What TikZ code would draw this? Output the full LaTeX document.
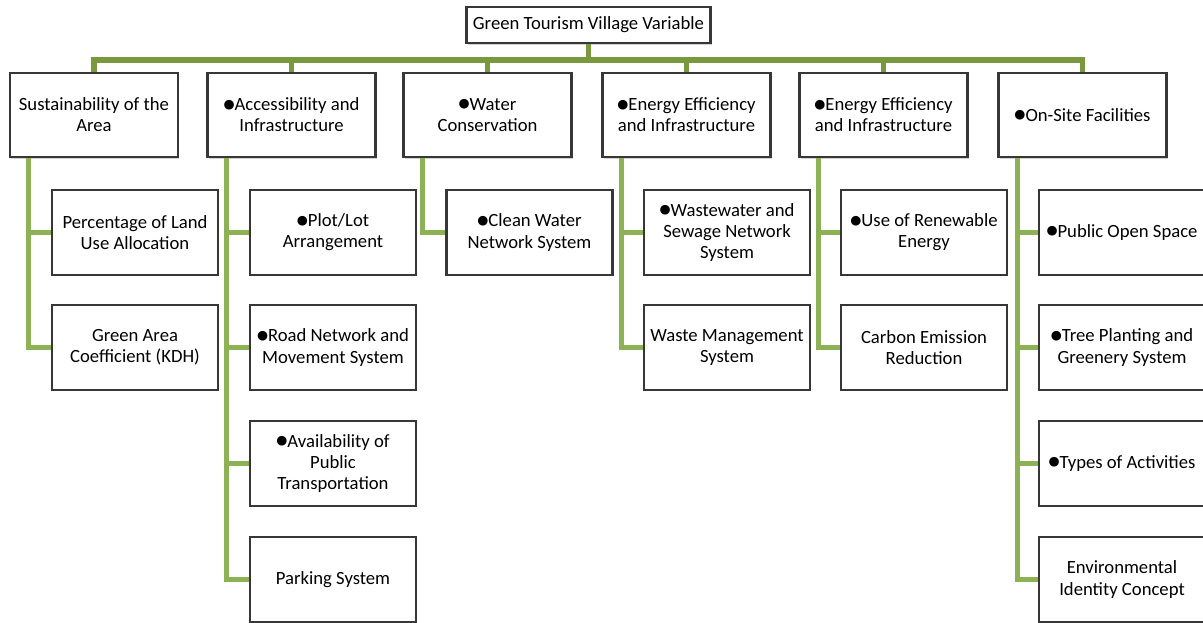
\documentclass[tikz,border=0pt]{standalone}
\usepackage{fontspec}
\setmainfont{Carlito}
\newfontfamily\symfont{DejaVu Sans}
\usetikzlibrary{positioning, shadows}

\definecolor{busgreen}{RGB}{122,152,62}
\definecolor{linkgreen}{RGB}{141,178,85}
\definecolor{boxedge}{RGB}{55,55,55}

\newcommand{\bul}{\raisebox{0.3ex}{\symfont\fontsize{9.5}{9.5}\selectfont ●}}

\tikzset{
    box/.style={draw=boxedge, line width=1.6pt, fill=white, align=center,
        minimum width=124.5pt, minimum height=63.5pt, inner sep=2pt,
        font=\fontsize{14}{15.8}\selectfont,
        drop shadow={shadow xshift=1pt, shadow yshift=-1.2pt, opacity=0.35}},
    topbox/.style={box, minimum width=126pt, minimum height=63pt},
    rootbox/.style={box, minimum width=183pt, minimum height=27pt},
    bus/.style={draw=busgreen, line width=3.8pt},
    link/.style={draw=linkgreen, line width=3.8pt}
}

\begin{document}
\begin{tikzpicture}[x=0.75pt, y=-0.75pt]
    \useasboundingbox (0,0) rectangle (1203,623);

    % Root
    \node[rootbox] (root) at (588.5,25) {Green Tourism Village Variable};

    % Main variables
    \node[topbox] (sust) at (94,115) {Sustainability of the\\Area};
    \node[topbox] (access) at (291.5,115) {\bul Accessibility and\\Infrastructure};
    \node[topbox] (water) at (487.5,115) {\bul Water\\Conservation};
    \node[topbox] (energyA) at (686.5,115) {\bul Energy Efficiency\\and Infrastructure};
    \node[topbox] (energyB) at (883.5,115) {\bul Energy Efficiency\\and Infrastructure};
    \node[topbox] (onsite) at (1082.5,115) {\bul On-Site Facilities};

    % Sustainability of the area
    \node[box] (landuse) at (135,232.5) {Percentage of Land\\Use Allocation};
    \node[box] (kdh) at (135,347.5) {Green Area\\Coefficient (KDH)};

    % Accessibility
    \node[box] (plot) at (333,232.5) {\bul Plot/Lot\\Arrangement};
    \node[box] (road) at (333,347.5) {\bul Road Network and\\Movement System};
    \node[box] (transport) at (333,463.5) {\bul Availability of\\Public\\Transportation};
    \node[box] (parking) at (333,579.5) {Parking System};

    % Water conservation
    \node[box] (cleanwater) at (529.5,232.5) {\bul Clean Water\\Network System};

    % Energy efficiency (1)
    \node[box] (sewage) at (727,232.5) {\bul Wastewater and\\Sewage Network\\System};
    \node[box] (waste) at (727,347.5) {Waste Management\\System};

    % Energy efficiency (2)
    \node[box] (renew) at (924,232.5) {\bul Use of Renewable\\Energy};
    \node[box] (carbon) at (924,347.5) {Carbon Emission\\Reduction};

    % On-site facilities
    \node[box] (openspace) at (1122,232.5) {\bul Public Open Space};
    \node[box] (trees) at (1122,347.5) {\bul Tree Planting and\\Greenery System};
    \node[box] (activities) at (1122,463.5) {\bul Types of Activities};
    \node[box] (identity) at (1122,579.5) {Environmental\\Identity Concept};

    % Bus
    \coordinate (hub) at (588.5,60);
    \draw[bus] (root.south) -- (hub);
    \draw[bus] (sust.north) |- (hub) -| (onsite.north);
    \draw[bus] (access.north) -- (access.north |- hub);
    \draw[bus] (water.north) -- (water.north |- hub);
    \draw[bus] (energyA.north) -- (energyA.north |- hub);
    \draw[bus] (energyB.north) -- (energyB.north |- hub);

    % Trunks to the indicators
    \draw[link] ([xshift=20*0.75pt]sust.south west) |- (landuse.west);
    \draw[link] ([xshift=20*0.75pt]sust.south west) |- (kdh.west);
    \draw[link] ([xshift=20*0.75pt]access.south west) |- (plot.west);
    \draw[link] ([xshift=20*0.75pt]access.south west) |- (road.west);
    \draw[link] ([xshift=20*0.75pt]access.south west) |- (transport.west);
    \draw[link] ([xshift=20*0.75pt]access.south west) |- (parking.west);
    \draw[link] ([xshift=20*0.75pt]water.south west) |- (cleanwater.west);
    \draw[link] ([xshift=20*0.75pt]energyA.south west) |- (sewage.west);
    \draw[link] ([xshift=20*0.75pt]energyA.south west) |- (waste.west);
    \draw[link] ([xshift=20*0.75pt]energyB.south west) |- (renew.west);
    \draw[link] ([xshift=20*0.75pt]energyB.south west) |- (carbon.west);
    \draw[link] ([xshift=20*0.75pt]onsite.south west) |- (openspace.west);
    \draw[link] ([xshift=20*0.75pt]onsite.south west) |- (trees.west);
    \draw[link] ([xshift=20*0.75pt]onsite.south west) |- (activities.west);
    \draw[link] ([xshift=20*0.75pt]onsite.south west) |- (identity.west);
\end{tikzpicture}
\end{document}
